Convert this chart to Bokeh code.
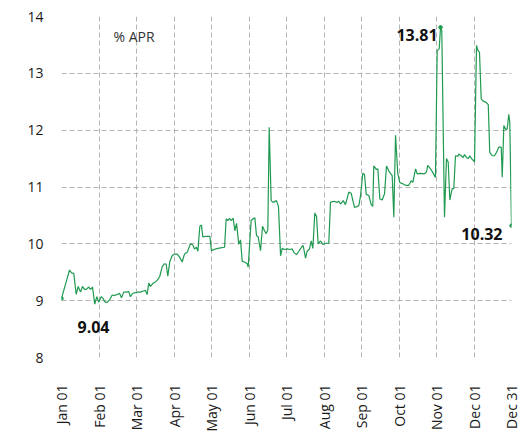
from bokeh.plotting import figure
from bokeh.models import Range1d, FixedTicker, Label
from bokeh.embed import file_html
from bokeh.resources import INLINE

# day position within the year (0 = Jan 01, 364 = Dec 31) and rate in % APR
days = [0, 3.8, 6.5, 8.1, 9.9, 11.9, 13.5, 15.4, 17.0, 18.6, 20.2, 21.8, 23.5, 25.1,
        26.9, 28.6, 30.2, 32.1, 33.7, 35.0, 37.0, 39.1, 41.0, 42.9, 45.1, 46.9, 48.5,
        50.4, 52.3, 54.4, 55.8, 57.7, 59.9, 61.7, 63.9, 66.1, 67.9, 69.3, 70.6, 72.0,
        74.2, 76.0, 77.9, 79.5, 81.5, 83.3, 84.7, 86.0, 87.6, 89.5, 91.4, 93.6, 95.4,
        97.6, 99.5, 101.7, 104.3, 106.2, 107.6, 109.2, 110.3, 111.9, 113.2, 114.3,
        116.5, 120.0, 121.3, 124.6, 128.6, 131.9, 133.2, 134.5, 135.9, 137.3, 138.9,
        140.2, 141.6, 143.4, 144.8, 146.2, 148.0, 150.2, 151.0, 153.4, 155.1, 156.4,
        157.7, 159.1, 161.0, 162.6, 164.2, 165.6, 166.9, 168.0, 169.6, 171.2, 173.9,
        175.5, 177.2, 178.5, 180.4, 182.6, 184.7, 186.6, 187.9, 190.1, 192.0, 194.1,
        195.5, 197.4, 198.7, 200.6, 202.0, 203.3, 204.9, 206.3, 207.6, 209.5, 211.4,
        213.5, 216.2, 217.6, 220.3, 223.0, 224.3, 225.7, 227.9, 229.7, 232.4, 234.3,
        237.0, 239.2, 240.5, 241.9, 243.7, 245.1, 246.5, 248.6, 250.5, 251.8, 252.6,
        254.6, 255.9, 257.5, 259.4, 261.3, 262.9, 264.8, 266.1, 267.5, 268.8, 270.2,
        272.0, 273.6, 275.6, 278.3, 280.9, 282.9, 284.2, 286.4, 287.7, 290.4, 293.1,
        295.2, 296.3, 298.5, 300.7, 302.5, 303.9, 305.5, 306.6, 307.6, 309.8, 311.4,
        312.8, 314.1, 316.0, 317.3, 318.7, 320.6, 321.4, 323.3, 324.9, 326.0, 327.6,
        329.0, 330.3, 331.6, 333.0, 334.1, 335.7, 336.7, 338.1, 339.5, 341.1, 343.5,
        345.2, 346.4, 348.4, 350.2, 351.9, 353.7, 355.7, 356.5, 357.8, 359.4, 360.5,
        361.8, 362.6, 364]
rates = [9.04, 9.33, 9.54, 9.49, 9.48, 9.11, 9.25, 9.15, 9.25, 9.20, 9.20, 9.24, 9.20, 9.24,
         8.94, 9.07, 8.97, 9.07, 9.04, 8.98, 8.97, 9.02, 9.10, 9.09, 9.11, 9.13, 9.05,
         9.15, 9.15, 9.16, 9.07, 9.13, 9.14, 9.15, 9.15, 9.17, 9.18, 9.11, 9.31, 9.25,
         9.31, 9.33, 9.37, 9.43, 9.60, 9.65, 9.64, 9.43, 9.69, 9.79, 9.82, 9.82, 9.77,
         9.68, 9.82, 9.85, 10.00, 9.98, 9.91, 9.94, 9.87, 10.31, 10.33, 10.12,
         10.13, 10.13, 9.88, 9.91, 9.93, 9.94, 10.44, 10.41, 10.45, 10.41, 10.45,
         10.23, 10.36, 9.99, 10.07, 9.69, 9.68, 9.65, 9.59, 10.41, 10.44, 10.46,
         10.15, 10.12, 9.88, 10.31, 10.23, 10.18, 10.25, 12.05, 10.76, 10.73, 10.76,
         10.66, 9.79, 9.92, 9.90, 9.91, 9.90, 9.91, 9.85, 9.81, 9.87, 9.94,
         9.97, 9.75, 9.87, 9.91, 10.05, 9.92, 10.54, 10.48, 10.00, 10.05, 9.99,
         10.01, 10.01, 10.73, 10.75, 10.73, 10.75, 10.70, 10.76, 10.69, 10.91, 10.89,
         10.64, 10.66, 10.67, 10.85, 11.24, 11.22, 10.87, 10.85, 10.69, 10.66, 11.37,
         11.31, 11.32, 10.79, 10.77, 10.88, 11.37, 11.28, 11.24, 11.20, 10.47, 11.91,
         11.24, 11.08, 11.06, 11.03, 11.03, 11.11, 11.08, 11.32, 11.23, 11.24, 11.23,
         11.26, 11.38, 11.32, 11.24, 11.17, 13.40, 13.43, 13.81, 13.75, 10.47, 11.50,
         11.44, 10.77, 10.97, 10.97, 11.55, 11.54, 11.58, 11.55, 11.52, 11.57, 11.52,
         11.50, 11.55, 11.50, 11.47, 11.44, 13.49, 13.41, 13.37, 12.55, 12.51, 12.49,
         12.45, 11.61, 11.55, 11.55, 11.61, 11.70, 11.70, 11.17, 12.08, 12.01, 12.02,
         12.28, 12.14, 10.32]

tick_labels = ["Jan 01", "Feb 01", "Mar 01", "Apr 01", "May 01", "Jun 01", "Jul 01",
               "Aug 01", "Sep 01", "Oct 01", "Nov 01", "Dec 01", "Dec 31"]
y_ticks = [8, 9, 10, 11, 12, 13, 14]
unit_text = "% APR"

LINE = "#1f9a50"
FONT = "Open Sans"

x_end = days[-1]
x_ticks = [i * x_end / (len(tick_labels) - 1) for i in range(len(tick_labels))]

p = figure(width=520, height=434, output_backend="svg", toolbar_location=None,
           x_range=Range1d(0, x_end), y_range=Range1d(y_ticks[0], y_ticks[-1]),
           min_border_left=61, min_border_right=9, min_border_top=16, min_border_bottom=0)
p.outline_line_color = None
p.background_fill_color = "white"
p.border_fill_color = "white"

p.xaxis.ticker = FixedTicker(ticks=x_ticks)
p.xaxis.major_label_overrides = dict(zip(x_ticks, tick_labels))
p.xaxis.major_label_orientation = 1.5707963267948966
p.yaxis.ticker = FixedTicker(ticks=y_ticks)

for ax in (p.xaxis[0], p.yaxis[0]):
    ax.axis_line_color = None
    ax.major_tick_line_color = None
    ax.minor_tick_line_color = None
    ax.major_tick_out = 0
    ax.major_tick_in = 0
    ax.major_label_text_font = FONT
    ax.major_label_text_font_size = "14px"
    ax.major_label_text_color = "#1a1a1a"
p.xaxis.major_label_standoff = 27
p.yaxis.major_label_standoff = 18

for g in (p.xgrid[0], p.ygrid[0]):
    g.grid_line_color = "#b3b3b3"
    g.grid_line_dash = "5 3"
    g.grid_line_width = 1

p.line(days, rates, line_color=LINE, line_width=1.2)

i_max = rates.index(max(rates))
marks = [(0, "left", 16, -29), (i_max, "right", -3, -8), (len(rates) - 1, "right", -9, -8)]
p.scatter([days[i] for i, *_ in marks], [rates[i] for i, *_ in marks],
          size=3.5, color=LINE)
for i, align, dx, dy in marks:
    p.add_layout(Label(x=days[i], y=rates[i], text=f"{rates[i]:.2f}", x_offset=dx,
                       y_offset=dy, text_align=align, text_baseline="middle",
                       text_font=FONT, text_font_style="bold", text_font_size="16px",
                       text_color="#111111"))

p.add_layout(Label(x=42, y=13.65, text=unit_text, text_align="left",
                   text_baseline="middle", text_font=FONT, text_font_size="14px",
                   text_color="#333333"))

open("out.html", "w").write(file_html(p, INLINE))
